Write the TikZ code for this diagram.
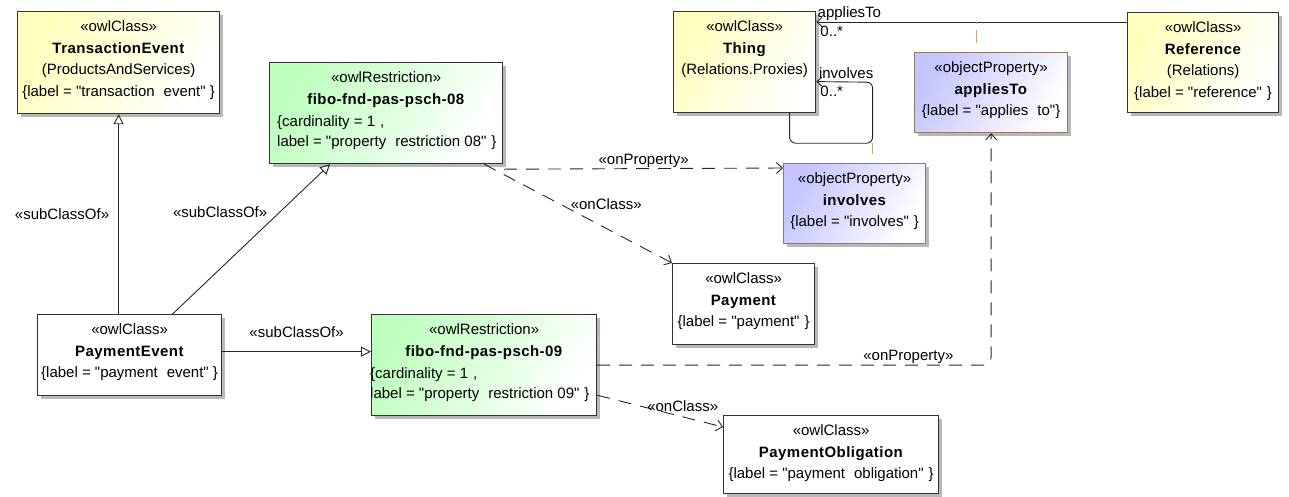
\documentclass[tikz,border=0pt]{standalone}
\usepackage{fontspec}
\setmainfont{Liberation Sans}[Ligatures=TeXOff]
\usetikzlibrary{arrows.meta,shadows,positioning}
\definecolor{clsfill}{RGB}{255,255,190}
\definecolor{rstfill}{RGB}{190,255,190}
\definecolor{propfill}{RGB}{196,196,255}
\definecolor{propedge}{RGB}{150,120,100}
\definecolor{linkcol}{RGB}{205,165,125}
\newcommand{\wgap}{\hspace{9pt}}
\newcommand{\ngap}{\hspace{5pt}}
\newcommand{\cname}[1]{\textbf{\addfontfeature{LetterSpace=3}#1}}
\tikzset{
  box/.style={draw=black!80, line width=1.2pt, inner sep=0pt, anchor=north west,
    drop shadow={shadow xshift=3pt, shadow yshift=-3pt, fill=black!35, opacity=.8}},
  owlclass/.style={box, top color=clsfill, bottom color=white, shading angle=60},
  plainclass/.style={box, fill=white},
  restriction/.style={box, top color=rstfill, bottom color=white, shading angle=60},
  objprop/.style={box, draw=propedge, top color=propfill, bottom color=white, shading angle=60},
  boxtext/.style={anchor=north, yshift=-9.5pt, inner sep=0pt, align=center,
    font=\fontsize{15}{21.5}\selectfont},
  slottext/.style={anchor=north west, yshift=-53pt, inner sep=0pt, align=left,
    font=\fontsize{15}{20.5}\selectfont},
  conn/.style={draw=black!85, line width=0.9pt},
  gen/.style={conn, -{Triangle[open, length=10pt, width=10pt]}},
  dep/.style={conn, dash pattern=on 13pt off 9pt, -{Straight Barb[length=6pt, width=11pt]}},
  assoc/.style={conn, -{Straight Barb[length=5pt, width=9pt]}},
  proplink/.style={draw=linkcol, line width=1pt, dash pattern=on 11pt off 20pt},
  lbl/.style={inner sep=1pt, font=\fontsize{15}{16}\selectfont},
}

\begin{document}
\begin{tikzpicture}[x=1pt, y=-1pt]
  \useasboundingbox (0,0) rectangle (1289,496);

  % Classes
  \node[owlclass, minimum width=202, minimum height=102,
    label={[boxtext]north:{«owlClass»\\\cname{TransactionEvent}\\(ProductsAndServices)\\\{label = "transaction\wgap event" \}}}]
    (transEvt) at (17,11) {};
  \node[owlclass, minimum width=142, minimum height=101,
    label={[boxtext]north:{«owlClass»\\\cname{Thing}\\(Relations.Proxies)}}]
    (thing) at (673,11) {};
  \node[owlclass, minimum width=151, minimum height=100,
    label={[boxtext]north:{«owlClass»\\\cname{Reference}\\(Relations)\\\{label = "reference"\ngap\}}}]
    (reference) at (1127,12) {};
  \node[plainclass, minimum width=142, minimum height=81,
    label={[boxtext]north:{«owlClass»\\\cname{Payment}\\\{label = "payment"\ngap\}}}]
    (payment) at (672,263) {};
  \node[plainclass, minimum width=184, minimum height=81,
    label={[boxtext]north:{«owlClass»\\\cname{PaymentEvent}\\\{label = "payment\wgap event" \}}}]
    (payEvt) at (37,314) {};
  \node[plainclass, minimum width=215, minimum height=78,
    label={[boxtext]north:{«owlClass»\\\cname{PaymentObligation}\\\{label = "payment\wgap obligation"\ngap\}}}]
    (payOblig) at (723,415) {};

  % Restrictions
  \node[restriction, minimum width=233, minimum height=101,
    label={[boxtext]north:{«owlRestriction»\\\cname{fibo-fnd-pas-psch-08}}},
    label={[slottext, xshift=8pt]north west:{\{cardinality = 1\ngap,\\label = "property\wgap restriction 08"\ngap\}}}]
    (rstr08) at (269,62) {};
  \node[restriction, minimum width=225, minimum height=101,
    label={[boxtext]north:{«owlRestriction»\\\cname{fibo-fnd-pas-psch-09}}},
    label={[slottext, xshift=-1pt]north west:{\{cardinality = 1\ngap,\\label = "property\wgap restriction 09"\ngap\}}}]
    (rstr09) at (371,314) {};

  % Object properties
  \node[objprop, minimum width=153, minimum height=80,
    label={[boxtext]north:{«objectProperty»\\\cname{appliesTo}\\\{label = "applies\wgap to"\}}}]
    (appliesTo) at (914,52) {};
  \node[objprop, minimum width=142, minimum height=80,
    label={[boxtext]north:{«objectProperty»\\\cname{involves}\\\{label = "involves"\ngap\}}}]
    (involves) at (783,163) {};

  % Generalizations
  \draw[gen] (payEvt.north -| transEvt.south) -- (transEvt.south)
    node[lbl, midway, left=8pt] {«subClassOf»};
  \draw[gen] ([xshift=43pt]payEvt.north) -- ([xshift=-56pt]rstr08.south)
    node[lbl, pos=.68, left=11pt] {«subClassOf»};
  \draw[gen] ([yshift=3.5pt]payEvt.east) -- ([yshift=3.5pt]payEvt.east -| rstr09.west)
    node[lbl, midway, above=13pt] {«subClassOf»};

  % Restriction links
  \draw[dep] ([shift={(1,5)}]rstr08.south east) -- ([shift={(0,5)}]involves.north west)
    node[lbl, midway, above] {«onProperty»};
  \draw[dep] ([xshift=-19pt]rstr08.south east) -- (payment.north west)
    node[lbl, pos=.4, right=10pt] {«onClass»};
  \draw[dep, rounded corners=8pt] (rstr09.east) -| (appliesTo.south)
    node[lbl, pos=.395, above] {«onProperty»};
  \draw[dep] ([yshift=21pt]rstr09.south east) -- ([yshift=-12pt]payOblig.north west)
    node[lbl, pos=.68, above=4pt] {«onClass»};

  % Associations
  \draw[assoc] ([yshift=-10pt]reference.north west) -- coordinate[pos=.484] (aptc)
    ([yshift=-10pt]reference.north west -| thing.east)
    node[lbl, at end, above right] {appliesTo}
    node[lbl, at end, below right=4pt] {0..*};
  \draw[assoc, rounded corners=6pt] ([xshift=45pt]thing.south) -- ++(0,30)
    -- ++(83,0) coordinate (loopc) -- ++(0,-61) -- ([yshift=-19.5pt]thing.east)
    node[lbl, at end, above right=2pt] {involves}
    node[lbl, at end, below right=4pt] {0..*};

  % Property links
  \draw[proplink] (loopc) -- (loopc |- involves.north);
  \draw[proplink, dash pattern=on 2pt off 6pt on 13pt off 20pt] (aptc) -- (aptc |- appliesTo.north);
\end{tikzpicture}
\end{document}
